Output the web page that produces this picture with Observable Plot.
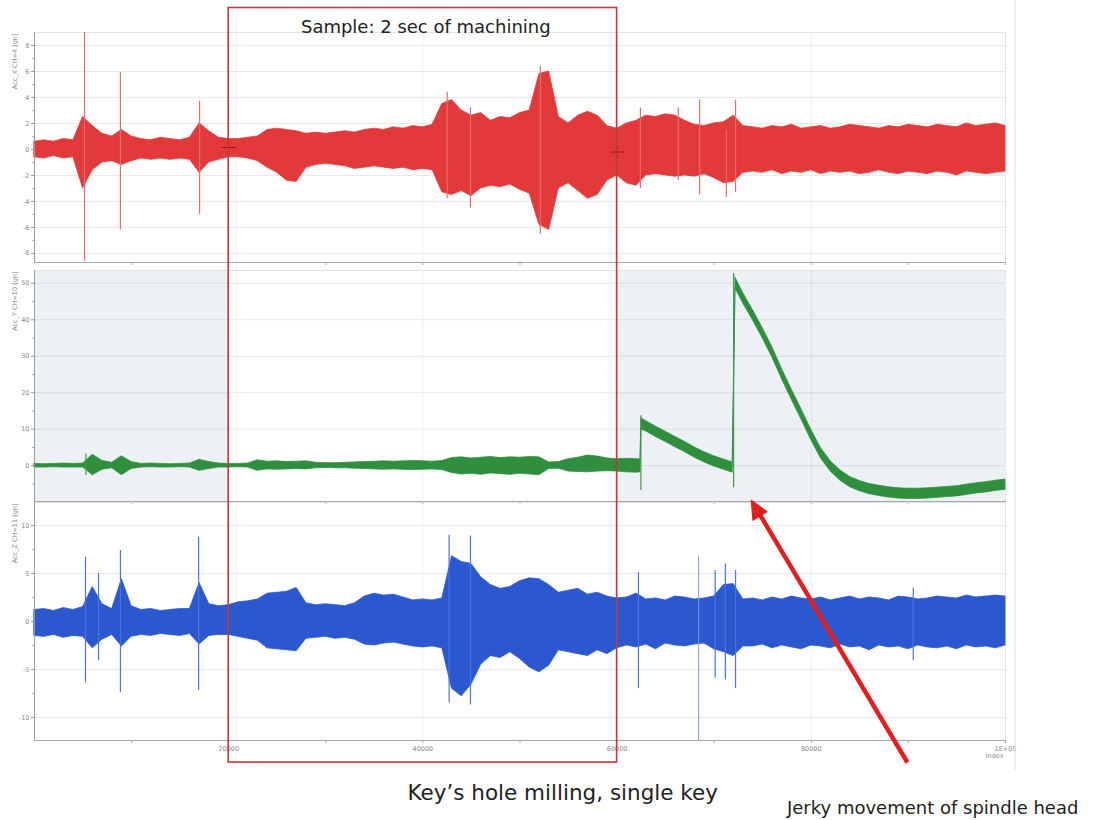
<!DOCTYPE html>
<html><head><meta charset="utf-8">
<script src="https://cdn.jsdelivr.net/npm/d3@7"></script>
<script src="https://cdn.jsdelivr.net/npm/@observablehq/plot@0.6"></script>
<style>
body{margin:0;background:#fff;}
#wrap{position:relative;width:1093px;height:820px;overflow:hidden;background:#fff;}
#wrap > svg{position:absolute;left:0;}
</style></head><body><div id="wrap"></div>
<script>
// ---------- data ----------
const xGrid = d3.range(0, 100001, 1000);          // sample index grid
const xTickLabels = [20000, 40000, 60000, 80000, 100000];
const xMinorTicks = [10000,20000,30000,40000,50000,60000,70000,80000,90000,100000];
const sampleWindow = [20000, 60000];

// Acc_X (red) envelope
const redHi = [0.6,0.7,0.6,0.8,0.7,2.5,1.8,1.2,1.0,1.5,1.0,0.8,0.7,0.9,0.8,0.7,0.9,2.0,1.4,0.9,
  0.8,0.8,0.9,1.0,1.5,1.6,1.5,1.4,1.2,1.3,1.2,1.3,1.4,1.3,1.5,1.6,1.5,1.7,1.6,1.8,
  1.7,1.9,3.5,3.8,3.0,2.6,2.8,2.2,2.5,2.4,2.8,3.0,5.8,6.0,2.5,2.0,2.6,2.9,2.6,1.8,
  1.6,2.0,2.2,2.6,2.5,2.7,2.6,2.2,1.9,1.8,2.0,2.1,2.6,1.8,
  1.7,1.6,1.8,1.7,1.9,1.6,1.7,1.8,1.6,1.7,1.9,1.8,1.7,1.6,1.8,1.7,1.9,1.8,1.7,1.9,1.8,1.7,2.0,1.8,1.9,2.0,1.8];
const redLo = [-0.6,-0.7,-0.5,-0.7,-0.6,-3.0,-1.6,-1.0,-0.9,-1.2,-0.9,-0.7,-0.8,-0.7,-0.8,-0.7,-0.8,-1.8,-1.0,-0.8,
  -0.6,-0.6,-0.7,-0.9,-1.4,-1.8,-2.4,-2.5,-1.4,-1.2,-1.1,-1.2,-1.3,-1.5,-1.4,-1.3,-1.4,-1.5,-1.4,-1.6,
  -1.5,-1.6,-3.3,-3.5,-3.2,-3.6,-3.0,-2.8,-2.9,-2.7,-3.1,-3.4,-5.8,-6.2,-3.0,-2.6,-3.2,-3.8,-3.5,-2.4,
  -2.0,-2.6,-2.8,-2.0,-1.9,-2.0,-2.1,-2.0,-2.1,-1.9,-2.2,-2.6,-2.5,-1.8,
  -1.7,-1.8,-1.6,-1.9,-1.7,-1.8,-1.6,-1.9,-1.7,-1.8,-1.7,-1.9,-1.8,-1.6,-1.8,-1.9,-1.7,-1.8,-1.9,-1.7,-1.8,-2.0,-1.7,-1.8,-1.9,-1.8,-1.7];
const redSpikeX  = [5150, 8850, 17000, 42500, 44900, 52100, 62400, 66300, 68500, 71250, 72200];
const redSpikeHi = [9.0, 5.9, 3.7, 4.4, 3.2, 6.4, 3.2, 3.2, 3.8, 1.5, 3.8];
const redSpikeLo = [-8.6, -6.2, -5.0, -3.8, -4.5, -6.5, -3.0, -2.4, -3.5, -3.7, -3.3];
const redCursor = [{x: 20000, y: 0.15}, {x: 60000, y: -0.2}];

// Acc_Y (green) envelope, with the two jumps
const greenX = [...d3.range(0, 62001, 1000), 62400, 62500, ...d3.range(63000, 71001, 1000), 71900, 72200, ...d3.range(73000, 100001, 1000)];
const greenHi = [0.5,0.4,0.5,0.6,0.5,0.6,3.0,1.3,0.8,2.6,1.0,0.5,0.6,0.5,0.4,0.5,0.6,1.6,1.0,0.6,
  0.5,0.5,0.6,1.5,1.1,1.2,1.0,1.1,1.2,0.8,0.7,0.7,0.8,0.9,1.0,1.1,1.2,1.1,1.2,1.3,
  1.2,1.1,1.3,2.1,2.3,2.0,2.2,2.4,2.1,2.3,2.2,2.4,2.3,0.9,1.0,1.8,2.2,2.8,2.5,2.0,
  1.8,1.9,1.8,
  1.7,13.0,
  12.2,10.7,9.3,7.9,6.5,5.0,3.7,2.6,1.7,
  0.9,51.5,
  47.2,42.6,37.7,32.4,26.4,20.8,15.4,9.8,4.8,1.2,-1.3,-3.1,-4.2,-5.0,-5.5,-5.9,-6.2,-6.3,-6.3,-6.2,-6.0,-5.8,-5.6,-5.2,-4.8,-4.5,-4.1,-3.8];
const greenLo = [-0.5,-0.5,-0.4,-0.5,-0.5,-0.5,-2.6,-1.1,-0.7,-2.6,-0.9,-0.5,-0.4,-0.5,-0.5,-0.4,-0.5,-1.4,-0.9,-0.5,
  -0.5,-0.4,-0.5,-1.4,-1.0,-1.1,-1.0,-0.9,-1.0,-0.7,-0.6,-0.7,-0.7,-0.8,-0.9,-1.0,-1.1,-1.0,-1.1,-1.2,
  -1.1,-1.0,-1.2,-2.0,-2.4,-2.2,-2.5,-2.1,-2.3,-2.5,-2.2,-2.4,-2.6,-0.9,-0.8,-1.6,-1.7,-1.8,-1.6,-1.5,
  -1.6,-1.8,-1.9,
  -1.8,10.0,
  9.4,7.9,6.5,5.1,3.7,2.2,0.9,-0.2,-1.1,
  -1.9,48.5,
  44.4,39.8,34.9,29.6,23.6,18.0,12.6,7.0,2.0,-1.6,-4.1,-5.9,-7.0,-7.8,-8.3,-8.7,-9.0,-9.1,-9.1,-9.0,-8.8,-8.6,-8.4,-8.0,-7.6,-7.3,-6.9,-6.6];
const greenSpikeX  = [5300, 62450, 72000];
const greenSpikeHi = [3.2, 13.7, 52.7];
const greenSpikeLo = [-2.7, -6.8, -6.0];

// Acc_Z (blue) envelope
const blueHi = [1.2,1.3,1.1,1.4,1.2,1.5,3.6,1.8,1.3,4.4,1.6,1.2,1.3,1.1,1.2,1.3,1.3,4.0,1.8,1.6,
  1.7,2.0,2.1,2.3,2.9,3.0,3.1,3.5,1.9,1.7,1.8,1.7,1.6,1.9,2.6,2.9,2.7,2.8,2.5,2.2,
  2.3,2.2,2.4,6.8,6.2,6.0,4.6,3.8,3.4,3.6,4.2,4.5,4.4,3.8,3.0,3.2,3.4,2.8,3.0,2.6,
  2.4,2.5,2.9,2.3,2.4,2.2,2.6,2.5,2.3,2.4,2.6,3.8,3.9,2.3,
  2.4,2.2,2.5,2.3,2.6,2.4,2.3,2.5,2.2,2.4,2.6,2.3,2.5,2.4,2.2,2.6,2.5,2.3,2.4,2.6,2.5,2.4,2.7,2.5,2.6,2.7,2.6];
const blueLo = [-1.5,-1.6,-1.4,-1.7,-1.5,-1.6,-2.8,-1.9,-1.4,-2.6,-1.6,-1.4,-1.5,-1.3,-1.4,-1.5,-1.3,-2.4,-1.5,-1.4,
  -1.4,-1.6,-1.8,-2.0,-2.8,-2.9,-3.0,-3.1,-1.8,-1.7,-1.6,-1.8,-1.7,-1.9,-2.4,-2.5,-2.3,-2.2,-2.4,-2.6,
  -2.7,-2.6,-2.8,-7.0,-7.8,-6.6,-4.5,-3.6,-3.8,-3.2,-3.9,-4.8,-5.3,-4.6,-3.0,-3.2,-3.4,-3.6,-3.0,-3.4,
  -2.8,-2.5,-2.7,-2.4,-2.9,-2.3,-2.5,-2.6,-2.4,-2.3,-2.9,-3.2,-3.6,-2.6,
  -2.6,-2.4,-2.8,-2.5,-2.7,-2.9,-2.5,-2.6,-2.8,-2.4,-2.7,-2.6,-3.0,-2.5,-2.7,-2.6,-2.9,-2.5,-2.7,-2.8,-2.6,-2.9,-2.5,-2.7,-2.6,-2.8,-2.5];
const blueSpikeX  = [5250, 6600, 8850, 16900, 42700, 44900, 62200, 70100, 71150, 72200, 90500];
const blueSpikeHi = [6.7, 5.0, 7.4, 8.8, 9.0, 8.9, 5.1, 5.3, 6.0, 5.3, 3.5];
const blueSpikeLo = [-6.4, -4.1, -7.4, -7.2, -8.5, -8.7, -7.0, -5.9, -6.1, -7.0, -4.1];
const blueFaintSpike = [{x: 68400, hi: 6.8, lo: -12.4}];

// ---------- helpers ----------
const W = 1093, ML = 34, MR = 88;
const env = (xs, hi, lo) => xs.map((x, i) => ({x, hi: hi[i], lo: lo[i]}));
const spikes = (xs, hi, lo) => xs.map((x, i) => ({x, hi: hi[i], lo: lo[i]}));
const FONT = "DejaVu Sans, sans-serif";
const wrap = document.getElementById("wrap");

function panel({top, height, mt, mb, ydom, yticks, yminor, label, color, spikeColor, area, spk, extra = [], bottomAxis = false}) {
  const marks = [
    ...extra.filter(m => m.__bg),
    Plot.gridY(yticks, {stroke: "#000", strokeOpacity: 0.09}),
    Plot.gridX([20000, 40000, 60000, 80000], {stroke: "#000", strokeOpacity: 0.07}),
    Plot.frame({stroke: "#e3e3e3"}),
    Plot.areaY(area, {x: "x", y1: "lo", y2: "hi", fill: color, curve: "linear", stroke: color, strokeWidth: 0.8}),
    Plot.ruleX(spk, {x: "x", y1: "lo", y2: "hi", stroke: spikeColor, strokeWidth: 1.2}),
    ...extra.filter(m => !m.__bg),
    Plot.ruleX([ydom[0]], {x: () => 0, stroke: "#9a9a9a"}),
    Plot.ruleY([ydom[0]], {stroke: "#a8a8a8"}),
    Plot.axisY(yticks, {tickSize: 3, tickPadding: 2, fontSize: 6.5, fill: "#8a8a8a", stroke: "#9a9a9a", tickFormat: d => String(d), label: null}),
    Plot.axisY(yminor, {tickSize: 2, stroke: "#aaa", tickFormat: () => "", label: null}),
    Plot.axisX(xMinorTicks, {tickSize: 3, stroke: "#aaa", tickFormat: () => "", label: null}),
    Plot.text([label], {text: d => d, frameAnchor: "top-left", dx: -22, dy: 1, rotate: -90, textAnchor: "end", fontSize: 6.5, fill: "#8a8a8a"})
  ];
  if (bottomAxis) {
    marks.push(Plot.axisX(xTickLabels, {tickSize: 0, tickPadding: 6, fontSize: 6.5, fill: "#8a8a8a",
      tickFormat: d => d === 100000 ? "1E+05" : String(d), label: null}));
    marks.push(Plot.text(["Index"], {text: d => d, frameAnchor: "bottom-right", dy: 17, dx: -2, textAnchor: "end", fontSize: 6.5, fill: "#8a8a8a"}));
  }
  const svg = Plot.plot({
    width: W, height, marginLeft: ML, marginRight: MR, marginTop: mt, marginBottom: mb,
    style: {fontFamily: FONT, background: "transparent", overflow: "visible"},
    x: {domain: [0, 100000], axis: null},
    y: {domain: ydom, axis: null},
    marks
  });
  svg.style.top = top + "px";
  wrap.appendChild(svg);
}

// middle-panel shaded background outside the sample window
const bgRect = Plot.rect([{a: 0, b: sampleWindow[0]}, {a: sampleWindow[1], b: 100000}], {x1: "a", x2: "b", fill: "#edf1f5"});
bgRect.__bg = true;

panel({top: 0, height: 270, mt: 32, mb: 8, ydom: [-8.7, 9.0],
  yticks: [-8,-6,-4,-2,0,2,4,6,8], yminor: [-7,-5,-3,-1,1,3,5,7],
  label: "Acc_X CH=4 [gn]", color: "#e23a3a", spikeColor: "#ec6a6a",
  area: env(xGrid, redHi, redLo), spk: spikes(redSpikeX, redSpikeHi, redSpikeLo),
  extra: [Plot.dot(redCursor, {x: "x", y: "y", symbol: "plus", r: 4.5, stroke: "#a01010", strokeWidth: 1})]});

panel({top: 262, height: 241, mt: 8, mb: 2, ydom: [-9.8, 53.5],
  yticks: [0,10,20,30,40,50], yminor: [-5,5,15,25,35,45],
  label: "Acc_Y CH=10 [gn]", color: "#2f8f3f", spikeColor: "#3c9a4a",
  area: env(greenX, greenHi, greenLo), spk: spikes(greenSpikeX, greenSpikeHi, greenSpikeLo),
  extra: [bgRect]});

panel({top: 499, height: 275, mt: 3, mb: 34, ydom: [-12.4, 12.4],
  yticks: [-10,-5,0,5,10], yminor: [-7.5,-2.5,2.5,7.5],
  label: "Acc_Z CH=11 [gn]", color: "#2c58cf", spikeColor: "#4a74dc",
  area: env(xGrid, blueHi, blueLo), spk: spikes(blueSpikeX, blueSpikeHi, blueSpikeLo),
  extra: [Plot.ruleX(blueFaintSpike, {x: "x", y1: "lo", y2: "hi", stroke: "#7f9ae6", strokeWidth: 1})],
  bottomAxis: true});

// ---------- annotation overlay (x in sample index, y in page pixels) ----------
const arrowShaft = [{x1: 89900, y1: 762, x2: 74700, y2: 514}];
const arrowHead = [{x: 73840, y: 500}, {x: 75400, y: 511}, {x: 74000, y: 519.5}, {x: 73840, y: 500}];
const overlay = Plot.plot({
  width: W, height: 820, marginLeft: ML, marginRight: MR, marginTop: 0, marginBottom: 0,
  style: {fontFamily: FONT, background: "transparent", overflow: "visible", pointerEvents: "none"},
  x: {domain: [0, 100000], axis: null},
  y: {domain: [0, 820], range: [0, 820], axis: null},
  marks: [
    Plot.ruleX([101000], {y1: () => 0, y2: () => 770, stroke: "#dedede"}),
    Plot.rect([{a: sampleWindow[0], b: sampleWindow[1]}], {x1: "a", x2: "b", y1: () => 7.5, y2: () => 762, fill: "none", stroke: "#c43838", strokeWidth: 1.6}),
    Plot.text(["Sample: 2 sec of machining"], {text: d => d, x: () => 40300, y: () => 27, fontSize: 18, fill: "#222"}),
    Plot.text(["Key’s hole milling, single key"], {text: d => d, x: () => 54400, y: () => 793, fontSize: 21.5, fill: "#222"}),
    Plot.text(["Jerky movement of spindle head"], {text: d => d, x: () => 92500, y: () => 808, fontSize: 18, fill: "#222"}),
    Plot.link(arrowShaft, {x1: "x1", y1: "y1", x2: "x2", y2: "y2", stroke: "#e02020", strokeWidth: 4.5}),
    Plot.line(arrowHead, {x: "x", y: "y", fill: "#e02020", stroke: "#e02020", strokeWidth: 1.5, strokeLinejoin: "round"})
  ]
});
overlay.style.top = "0px";
wrap.appendChild(overlay);
</script></body></html>
